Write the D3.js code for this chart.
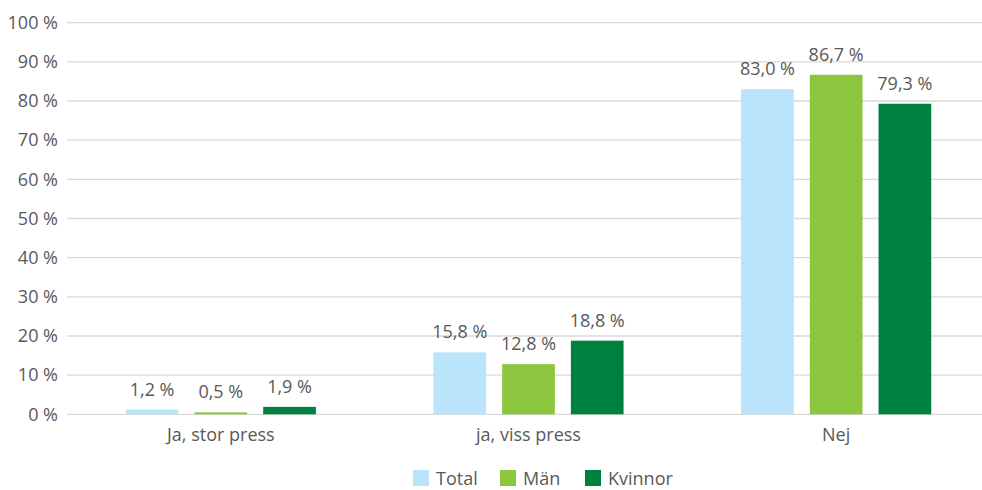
<!DOCTYPE html>
<html>
<head>
<meta charset="utf-8">
<script src="https://cdn.jsdelivr.net/npm/d3@7"></script>
<style>
  html, body { margin: 0; padding: 0; background: #fff; }
  svg { display: block; font-family: "Open Sans", sans-serif; }
</style>
</head>
<body>
<svg id="chart" width="982" height="490"></svg>
<script>
const categories = ["Ja, stor press", "ja, viss press", "Nej"];
const seriesNames = ["Total", "Män", "Kvinnor"];
const totalValues = [1.2, 15.8, 83.0];
const manValues = [0.5, 12.8, 86.7];
const kvinnorValues = [1.9, 18.8, 79.3];
const yTicks = [0, 10, 20, 30, 40, 50, 60, 70, 80, 90, 100];
const colors = ["#BAE4F9", "#8CC63F", "#00803E"];

(function () {
const seriesValues = [totalValues, manValues, kvinnorValues];
const fmt = v => v.toFixed(1).replace(".", ",") + " %";

const svg = d3.select("#chart");
const pLeft = 67, pRight = 990, pTop = 22.7, pBottom = 414.3;
const textColor = "#595959";

const y = d3.scaleLinear().domain([0, 100]).range([pBottom, pTop]);
const x0 = d3.scaleBand().domain(categories).range([pLeft, pRight])
  .paddingInner(0.382).paddingOuter(0.191);
const x1 = d3.scaleBand().domain(seriesNames).range([0, x0.bandwidth()])
  .paddingInner(0.233).paddingOuter(0);

// gridlines
svg.append("g").selectAll("line").data(yTicks).join("line")
  .attr("x1", pLeft).attr("x2", pRight)
  .attr("y1", d => y(d)).attr("y2", d => y(d))
  .attr("stroke", "#D9D9D9").attr("stroke-width", 1.3);

// y axis labels
const yAxis = d3.axisLeft(y).tickValues(yTicks).tickSize(0).tickPadding(9)
  .tickFormat(d => d + " %");
const yg = svg.append("g").attr("transform", `translate(${pLeft},0)`).call(yAxis);
yg.select(".domain").remove();
yg.selectAll("text").attr("fill", textColor).attr("font-size", 18)
  .attr("font-family", "Open Sans, sans-serif");

// x axis labels
const xAxis = d3.axisBottom(x0).tickSize(0).tickPadding(14);
const xg = svg.append("g").attr("transform", `translate(0,${pBottom})`).call(xAxis);
xg.select(".domain").remove();
xg.selectAll("text").attr("fill", textColor).attr("font-size", 18)
  .attr("font-family", "Open Sans, sans-serif");

// bars
const data = [];
categories.forEach((c, i) => {
  seriesNames.forEach((s, j) => data.push({ cat: c, ser: s, val: seriesValues[j][i], ci: j }));
});
const g = svg.append("g");
g.selectAll("rect").data(data).join("rect")
  .attr("x", d => x0(d.cat) + x1(d.ser))
  .attr("width", x1.bandwidth())
  .attr("y", d => y(d.val))
  .attr("height", d => y(0) - y(d.val))
  .attr("fill", d => colors[d.ci]);

g.selectAll("text").data(data).join("text")
  .attr("x", d => x0(d.cat) + x1(d.ser) + x1.bandwidth() / 2)
  .attr("y", d => y(d.val) - 14)
  .attr("text-anchor", "middle")
  .attr("fill", textColor).attr("font-size", 18)
  .text(d => fmt(d.val));

// legend
const legendX = [413, 500, 585];
const lg = svg.append("g");
seriesNames.forEach((s, j) => {
  lg.append("rect").attr("x", legendX[j]).attr("y", 470).attr("width", 16).attr("height", 16)
    .attr("fill", colors[j]);
  lg.append("text").attr("x", legendX[j] + 23).attr("y", 477.5)
    .attr("dominant-baseline", "central")
    .attr("fill", textColor).attr("font-size", 18).text(s);
});
})();
</script>
</body>
</html>
